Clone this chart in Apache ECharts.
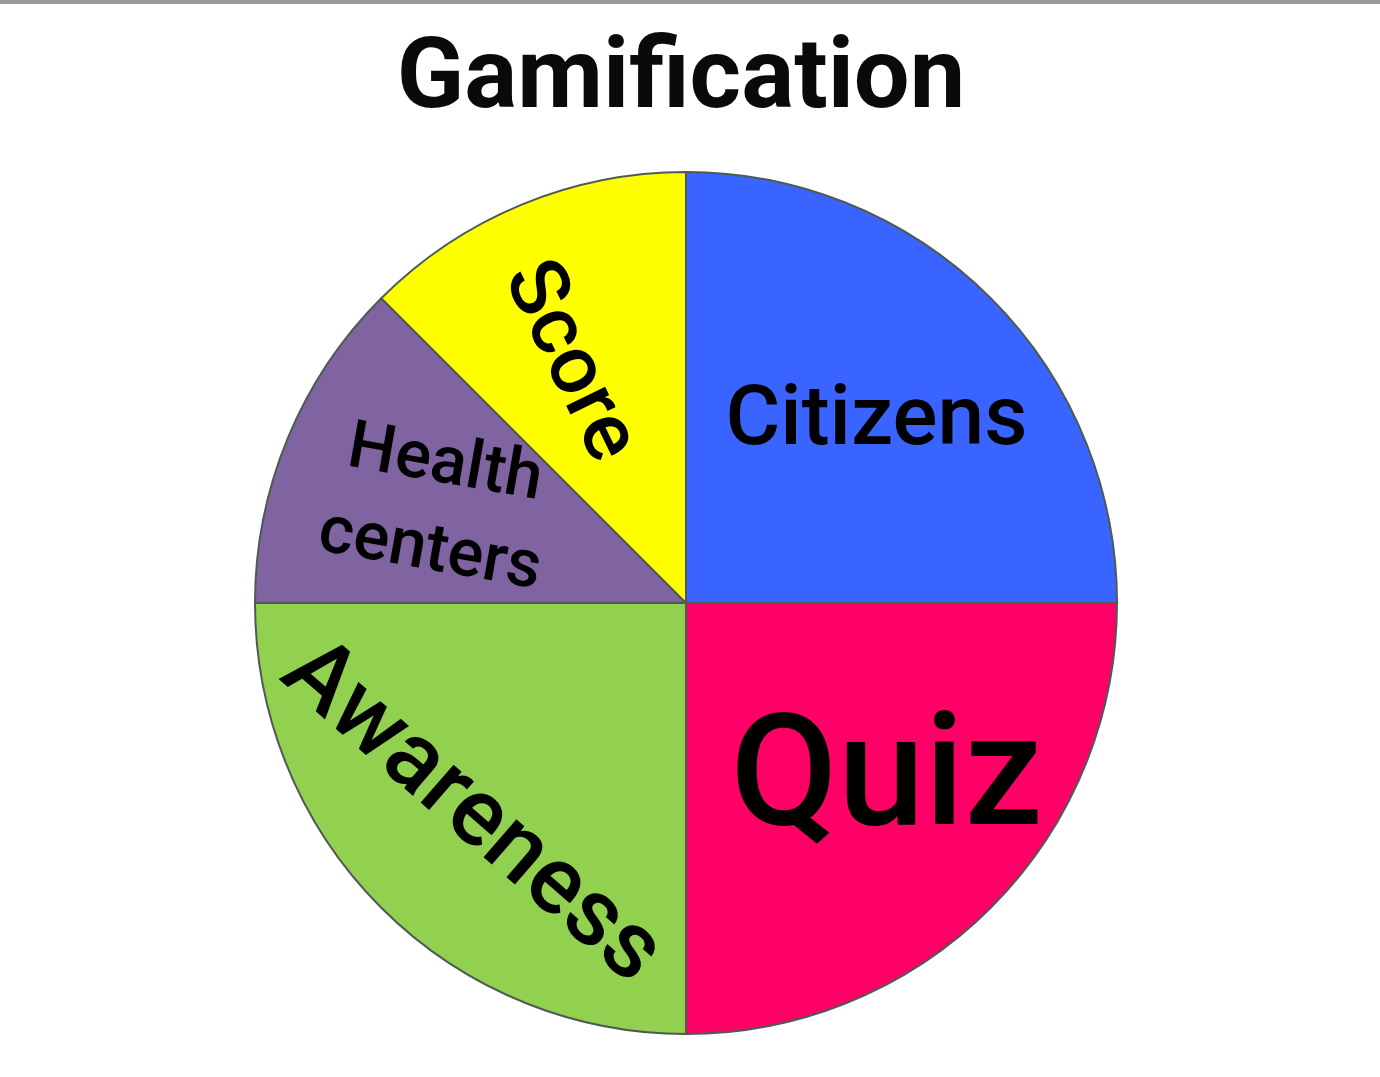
<!DOCTYPE html>
<html>
<head>
<meta charset="utf-8">
<script src="https://cdn.jsdelivr.net/npm/echarts@6/dist/echarts.min.js"></script>
<style>
html,body{margin:0;padding:0;background:#ffffff;}
#chart{width:1380px;height:1077px;}
</style>
</head>
<body>
<div id="chart"></div>
<script>
// ---- data ----
var titleText = 'Gamification';
var categories = ['Citizens', 'Quiz', 'Awareness', 'Health centers', 'Score'];
var values = [25, 25, 25, 12.5, 12.5];
var colors = ['#3A64FF', '#FF0066', '#92D050', '#8064A2', '#FFFF00'];

// ---- label styling (not data) ----
var labelStyle = {
  'Citizens':       { fontSize: 84,  rotate: 0,   dx: 36,  dy: -25 },
  'Quiz':           { fontSize: 156, rotate: 0,   dx: 46,  dy: 27 },
  'Awareness':      { fontSize: 95,  rotate: -41, dx: -9,  dy: 83 },
  'Health centers': { fontSize: 67,  rotate: -10, dx: -48, dy: -2, lineHeight: 88 },
  'Score':          { fontSize: 82,  rotate: -64, dx: -50, dy: 14 }
};

var chart = echarts.init(document.getElementById('chart'), null, { renderer: 'canvas' });

var pieData = categories.map(function (name, i) {
  var s = labelStyle[name];
  return {
    name: name,
    value: values[i],
    itemStyle: { color: colors[i] },
    label: {
      fontSize: s.fontSize,
      rotate: s.rotate,
      lineHeight: s.lineHeight || Math.round(s.fontSize * 1.2)
    }
  };
});

chart.setOption({
  backgroundColor: '#ffffff',
  animation: false,
  title: {
    text: titleText,
    left: 676,
    top: 28,
    textAlign: 'center',
    textStyle: {
      fontFamily: 'Roboto',
      fontWeight: 'bold',
      fontSize: 99,
      color: '#0a0a0a'
    }
  },
  graphic: [{
    type: 'rect',
    shape: { x: 0, y: 0, width: 1380, height: 4 },
    style: { fill: '#9a9a9a' },
    silent: true
  }],
  series: [{
    type: 'pie',
    center: [686, 603],
    radius: [0, 431],
    startAngle: 90,
    clockwise: true,
    avoidLabelOverlap: false,
    data: pieData,
    itemStyle: { borderColor: '#4d5a55', borderWidth: 2 },
    label: {
      show: true,
      position: 'inside',
      color: '#000000',
      fontFamily: 'Roboto',
      fontWeight: 500,
      formatter: function (p) { return p.name.replace(' ', '\n'); }
    },
    labelLine: { show: false },
    labelLayout: function (params) {
      var s = labelStyle[categories[params.dataIndex]];
      return { dx: s.dx, dy: s.dy };
    },
    emphasis: { disabled: true }
  }]
});
</script>
</body>
</html>
